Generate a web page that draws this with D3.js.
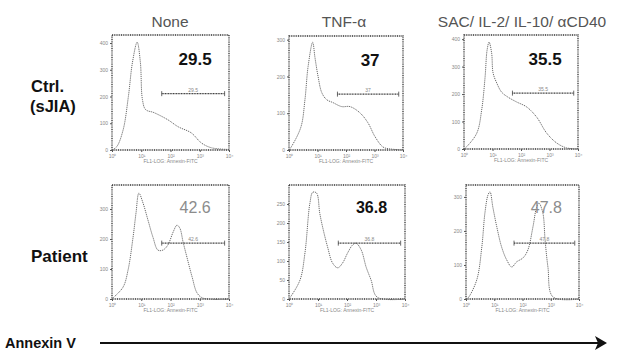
<!DOCTYPE html>
<html>
<head>
<meta charset="utf-8">
<script src="https://cdn.jsdelivr.net/npm/d3@7"></script>
<style>
  body { margin: 0; background: #fff; }
  svg { display: block; font-family: "Liberation Sans", Arial, sans-serif; }
</style>
</head>
<body>
<svg id="chart" width="623" height="353"></svg>
<script>
// histogram traces: [log10 fluorescence, cell count]
const ctrlNone = [[0,0],[0.16,12],[0.38,75],[0.56,200],[0.70,328],[0.86,403],[0.97,328],[1.04,189],[1.15,151],[1.43,140],[1.91,113],[2.26,87],[2.71,64],[3.06,26],[3.41,8],[4,2]];
const ctrlTnf = [[0,0],[0.1,11],[0.42,63],[0.56,137],[0.67,227],[0.83,293],[0.91,252],[1.02,200],[1.15,156],[1.32,137],[1.54,129],[1.85,118],[2.14,118],[2.49,101],[2.77,74],[3.02,36],[3.30,8],[3.54,3],[4,0]];
const ctrlSac = [[0,0],[0.09,8],[0.45,58],[0.62,142],[0.74,262],[0.81,360],[0.88,389],[0.97,349],[1.02,277],[1.15,240],[1.32,207],[1.54,189],[1.85,171],[2.2,153],[2.55,116],[2.9,58],[3.25,22],[3.6,4],[4,0]];
const patNone = [[0,0],[0.03,3],[0.38,40],[0.55,97],[0.72,206],[0.82,286],[0.92,353],[1.06,320],[1.23,263],[1.40,206],[1.57,163],[1.74,163],[1.91,180],[2.09,223],[2.22,246],[2.32,236],[2.43,190],[2.56,140],[2.74,73],[2.91,20],[3.11,3],[4,0]];
const patTnf = [[0,0],[0.03,3],[0.38,50],[0.55,121],[0.72,252],[0.82,281],[0.95,279],[1.06,226],[1.16,189],[1.33,137],[1.50,95],[1.68,82],[1.85,95],[2.02,121],[2.19,142],[2.31,147],[2.49,129],[2.66,84],[2.83,50],[3.04,5],[4,0]];
const patSac = [[0,0],[0.07,3],[0.38,56],[0.56,153],[0.67,253],[0.78,306],[0.85,315],[0.95,270],[1.09,212],[1.26,153],[1.44,115],[1.62,94],[1.79,109],[2.02,121],[2.19,144],[2.37,212],[2.50,270],[2.58,282],[2.72,253],[2.80,173],[2.90,94],[3.08,6],[4,0]];

const conditions = ["None", "TNF-\u03b1", "SAC/ IL-2/ IL-10/ \u03b1CD40"];
const ctrlPct = ["29.5", "37", "35.5"];
const patPct = ["42.6", "36.8", "47.8"];
const yMax = [430, 310, 415, 380, 300, 335];
const yTicks = [[0,100,200,300,400],[0,100,200,300],[0,100,200,300,400],[0,100,200,300],[0,50,100,150,200,250],[0,100,200,300]];
const xTicks = [1, 10, 100, 1000, 10000];
const xTickLabels = ["10\u2070", "10\u00b9", "10\u00b2", "10\u00b3", "10\u2074"];
const gate = [1.7, 3.85];

const svg = d3.select("#chart");

// panel boxes (layout only)
const boxes = [
  {x: 112, y: 35, w: 117, h: 115},
  {x: 289, y: 36, w: 114, h: 114},
  {x: 464, y: 35, w: 114, h: 114},
  {x: 112, y: 185, w: 117, h: 114},
  {x: 289, y: 185, w: 116, h: 114},
  {x: 466, y: 185, w: 113, h: 114}
];
const traces = [ctrlNone, ctrlTnf, ctrlSac, patNone, patTnf, patSac];
const bigLabels = [
  {t: ctrlPct[0], c: "#111", fw: "bold"}, {t: ctrlPct[1], c: "#111", fw: "bold"}, {t: ctrlPct[2], c: "#111", fw: "bold"},
  {t: patPct[0], c: "#8c8c8c", fw: "normal"}, {t: patPct[1], c: "#111", fw: "bold"}, {t: patPct[2], c: "#8c8c8c", fw: "normal"}
];

boxes.forEach((b, i) => {
  const g = svg.append("g").attr("transform", `translate(${b.x},${b.y})`);

  const x = d3.scaleLog().domain([1, 1e4]).range([0, b.w]);
  const y = d3.scaleLinear().domain([0, yMax[i]]).range([b.h, 0]);

  // box frame
  g.append("rect")
    .attr("width", b.w).attr("height", b.h)
    .attr("fill", "none").attr("stroke", "#333")
    .attr("stroke-width", 1.3).attr("stroke-dasharray", "1,0.8");

  const xa = g.append("g").attr("transform", `translate(0,${b.h})`)
    .call(d3.axisBottom(x).tickValues(xTicks).tickSize(2).tickPadding(2)
      .tickFormat((d, k) => xTickLabels[k]));
  const ya = g.append("g")
    .call(d3.axisLeft(y).tickValues(yTicks[i]).tickSize(2).tickPadding(2));
  [xa, ya].forEach(a => {
    a.select(".domain").remove();
    a.selectAll("line").attr("stroke", "#555");
    a.selectAll("text").attr("fill", "#888").style("font-size", "5px");
  });

  g.append("text")
    .attr("x", b.w / 2).attr("y", b.h + 13)
    .attr("text-anchor", "middle").attr("fill", "#888")
    .style("font-size", "5px")
    .text("FL1-LOG: Annexin-FITC");

  // histogram trace
  const line = d3.line()
    .x(d => x(Math.pow(10, d[0])))
    .y(d => y(d[1]))
    .curve(d3.curveCatmullRom);
  g.append("path")
    .datum(traces[i])
    .attr("d", line)
    .attr("fill", "none").attr("stroke", "#6a6a6a")
    .attr("stroke-width", 1).attr("stroke-dasharray", "1.2,0.9");

  // marker gate
  const gy = b.h * 0.51;
  const gx0 = x(Math.pow(10, gate[0])), gx1 = x(Math.pow(10, gate[1]));
  g.append("line")
    .attr("x1", gx0).attr("x2", gx1).attr("y1", gy).attr("y2", gy)
    .attr("stroke", "#333").attr("stroke-width", 1.4).attr("stroke-dasharray", "1,0.6");
  [gx0, gx1].forEach(v => g.append("line")
    .attr("x1", v).attr("x2", v).attr("y1", gy - 2.5).attr("y2", gy + 2.5)
    .attr("stroke", "#444").attr("stroke-width", 0.8));
  g.append("text")
    .attr("x", (gx0 + gx1) / 2).attr("y", gy - 2)
    .attr("text-anchor", "middle").attr("fill", "#888")
    .style("font-size", "5px")
    .text(i < 3 ? ctrlPct[i] : patPct[i - 3]);

  // percentage label
  g.append("text")
    .attr("x", gx0 + (gx1 - gx0) / 2 + 2).attr("y", i < 3 ? 30 : 28)
    .attr("text-anchor", "middle")
    .attr("fill", bigLabels[i].c).attr("font-weight", bigLabels[i].fw)
    .style("font-size", i < 3 ? "17px" : "16px")
    .text(bigLabels[i].t);
});

// column headers
const colX = [170, 344, 522];
conditions.forEach((c, i) => {
  svg.append("text")
    .attr("x", colX[i]).attr("y", 27)
    .attr("text-anchor", "middle").attr("fill", "#555")
    .style("font-size", "15.5px")
    .text(c);
});

// row labels
svg.append("text").attr("x", 31).attr("y", 92)
  .attr("font-weight", "bold").style("font-size", "16.5px").attr("fill", "#111").text("Ctrl.");
svg.append("text").attr("x", 30).attr("y", 112)
  .attr("font-weight", "bold").style("font-size", "16.5px").attr("fill", "#111").text("(sJIA)");
svg.append("text").attr("x", 31).attr("y", 262)
  .attr("font-weight", "bold").style("font-size", "17px").attr("fill", "#111").text("Patient");

// Annexin V arrow
svg.append("text").attr("x", 5).attr("y", 348)
  .attr("font-weight", "bold").style("font-size", "14.5px").attr("fill", "#111").text("Annexin V");
svg.append("line")
  .attr("x1", 100).attr("x2", 598).attr("y1", 343).attr("y2", 343)
  .attr("stroke", "#111").attr("stroke-width", 2.2);
svg.append("path")
  .attr("d", "M595,336 L607,343 L595,350 L598,343 Z")
  .attr("fill", "#111");
</script>
</body>
</html>
